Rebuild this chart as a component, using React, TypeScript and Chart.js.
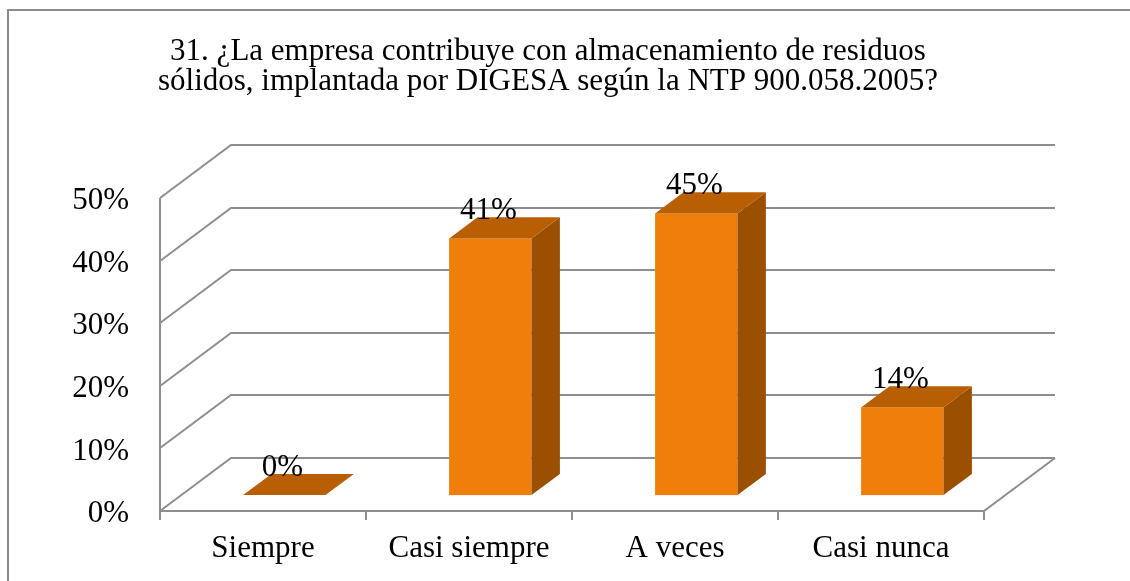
import React, { useEffect, useRef } from "react";
import { Chart, registerables } from "chart.js";

Chart.register(...registerables);

const titleLines = [
  "31. ¿La empresa contribuye con almacenamiento de residuos",
  "sólidos, implantada por DIGESA según la NTP 900.058.2005?",
];
const categories = ["Siempre", "Casi siempre", "A veces", "Casi nunca"];
const values = [0, 0.41, 0.45, 0.14];
const yTickLabels = ["0%", "10%", "20%", "30%", "40%", "50%"];

const FONT = '"Liberation Serif", "Times New Roman", serif';
const GRID = "#8e8e8e";
const FRONT = "#ef7f0a";
const TOP = "#b95f03";
const SIDE = "#9a5000";

// 3D depth of the floor / back wall
const DEPTH_X = 71;
const DEPTH_Y = -53;
// bar placed between 30% and 70% of the depth
const BAR_FRONT = 0.3;
const BAR_DEPTH = 0.4;

const threeD = {
  id: "threeD",
  beforeDatasetsDraw(chart: any) {
    const ctx = chart.ctx;
    const { left, right } = chart.chartArea;
    const y = chart.scales.y;
    ctx.save();
    // outer frame
    ctx.strokeStyle = "#8a8a8a";
    ctx.lineWidth = 2;
    ctx.strokeRect(8, 10, 1400, 900);
    // title
    ctx.fillStyle = "#000";
    ctx.font = `31px ${FONT}`;
    ctx.textAlign = "center";
    ctx.textBaseline = "alphabetic";
    ctx.fillText(titleLines[0], 548, 60);
    ctx.fillText(titleLines[1], 548, 90);

    ctx.strokeStyle = GRID;
    ctx.lineWidth = 2;
    ctx.lineCap = "butt";
    y.ticks.forEach((t: any) => {
      const yf = Math.round(y.getPixelForValue(t.value));
      ctx.beginPath();
      ctx.moveTo(left, yf);
      ctx.lineTo(left + DEPTH_X, yf + DEPTH_Y);
      ctx.lineTo(right + DEPTH_X, yf + DEPTH_Y);
      ctx.stroke();
    });
    const top = Math.round(y.getPixelForValue(y.max));
    const base = Math.round(y.getPixelForValue(0));
    // left axis, floor front edge, floor right edge
    ctx.beginPath();
    ctx.moveTo(left, top);
    ctx.lineTo(left, base + 9);
    ctx.moveTo(left, base);
    ctx.lineTo(right, base);
    ctx.lineTo(right + DEPTH_X, base + DEPTH_Y);
    ctx.stroke();
    // category tick marks
    const n = categories.length;
    const step = (right - left) / n;
    ctx.beginPath();
    for (let i = 1; i <= n; i++) {
      const xx = Math.round(left + step * i);
      ctx.moveTo(xx, base);
      ctx.lineTo(xx, base + 9);
    }
    ctx.stroke();
    ctx.restore();
  },
  afterDatasetsDraw(chart: any) {
    const ctx = chart.ctx;
    const meta = chart.getDatasetMeta(0);
    const fdx = DEPTH_X * BAR_FRONT;
    const fdy = DEPTH_Y * BAR_FRONT;
    const ddx = DEPTH_X * BAR_DEPTH;
    const ddy = DEPTH_Y * BAR_DEPTH;
    ctx.save();
    meta.data.forEach((el: any, i: number) => {
      const w = el.width;
      const x0 = el.x - w / 2 + fdx;
      const x1 = x0 + w;
      const top = el.y + fdy;
      const bot = el.base + fdy;
      if (bot - top > 0.5) {
        ctx.fillStyle = FRONT;
        ctx.fillRect(x0, top, w, bot - top);
        ctx.fillStyle = SIDE;
        ctx.beginPath();
        ctx.moveTo(x1, top);
        ctx.lineTo(x1 + ddx, top + ddy);
        ctx.lineTo(x1 + ddx, bot + ddy);
        ctx.lineTo(x1, bot);
        ctx.closePath();
        ctx.fill();
      }
      ctx.fillStyle = TOP;
      ctx.beginPath();
      ctx.moveTo(x0, top);
      ctx.lineTo(x1, top);
      ctx.lineTo(x1 + ddx, top + ddy);
      ctx.lineTo(x0 + ddx, top + ddy);
      ctx.closePath();
      ctx.fill();
      ctx.fillStyle = "#000";
      ctx.font = `31px ${FONT}`;
      ctx.textAlign = "center";
      ctx.textBaseline = "alphabetic";
      ctx.fillText(`${Math.round(values[i] * 100)}%`, el.x + fdx - 2, top - 19);
    });
    ctx.restore();
  },
};

export default function App() {
  const ref = useRef<HTMLCanvasElement | null>(null);
  useEffect(() => {
    document.body.style.margin = "0";
    const c = ref.current;
    if (!c) return;
    const chart = new Chart(c, {
      type: "bar",
      data: {
        labels: categories,
        datasets: [
          {
            data: values,
            backgroundColor: "rgba(0,0,0,0)",
            borderWidth: 0,
            categoryPercentage: 1,
            barPercentage: 0.4,
          },
        ],
      },
      options: {
        animation: false,
        responsive: false,
        layout: { padding: { top: 198, left: 0, right: 146, bottom: 0 } },
        plugins: {
          legend: { display: false },
          title: { display: false },
          tooltip: { enabled: false },
        },
        scales: {
          x: {
            grid: { display: false, drawTicks: false },
            border: { display: false },
            ticks: {
              color: "#000",
              font: { family: FONT, size: 31 },
              padding: 19,
              maxRotation: 0,
              autoSkip: false,
            },
            afterFit: (s: any) => {
              s.height = 70;
            },
          },
          y: {
            min: 0,
            max: 0.5,
            grid: { display: false, drawTicks: false },
            border: { display: false },
            ticks: {
              stepSize: 0.1,
              color: "#000",
              font: { family: FONT, size: 31 },
              padding: 31,
              labelOffset: 3,
              callback: (_v: any, i: number) => yTickLabels[i],
            },
            afterFit: (s: any) => {
              s.width = 160;
            },
          },
        },
      },
      plugins: [threeD],
    });
    return () => chart.destroy();
  }, []);
  return <canvas ref={ref} width={1130} height={581} style={{ display: "block" }} />;
}
